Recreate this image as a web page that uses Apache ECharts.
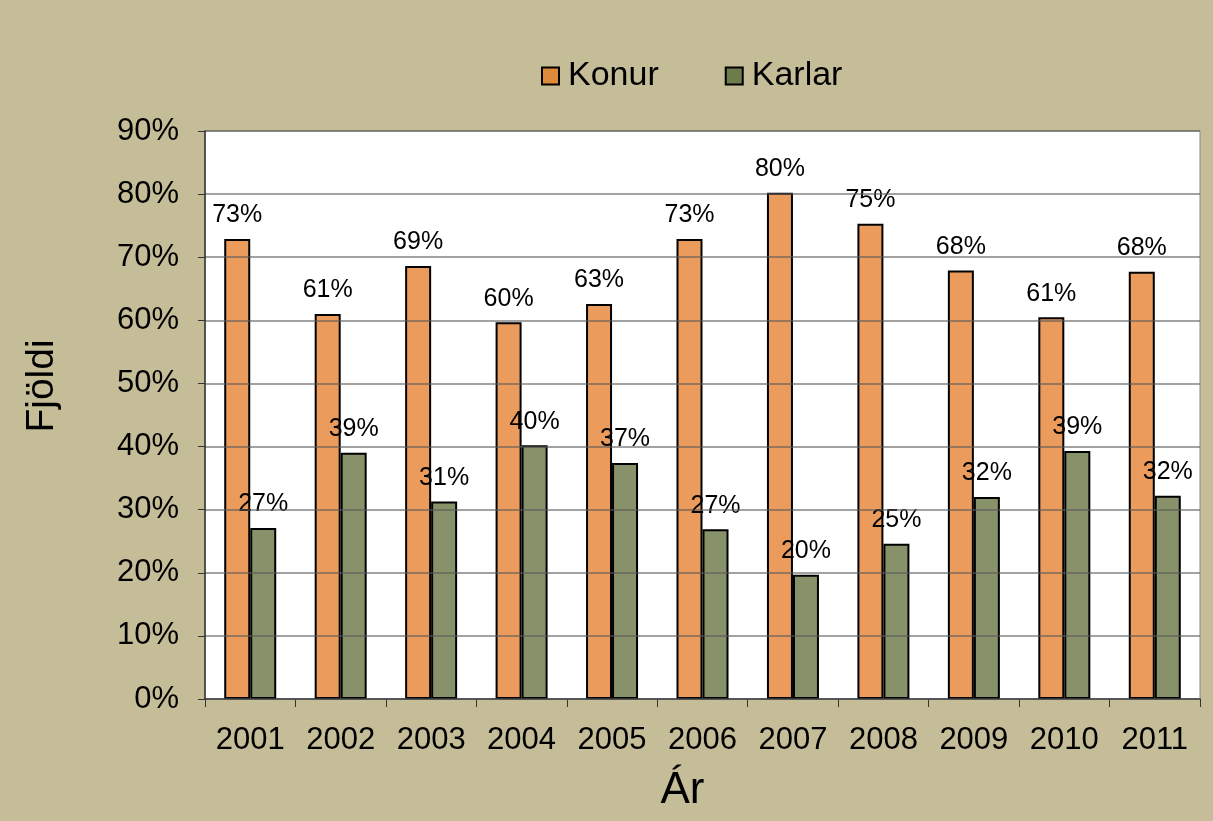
<!DOCTYPE html>
<html>
<head>
<meta charset="utf-8">
<script src="https://cdn.jsdelivr.net/npm/echarts@6/dist/echarts.min.js"></script>
<style>
  html, body { margin: 0; padding: 0; background: #c5bd97; }
  #chart { width: 1213px; height: 821px; }
</style>
</head>
<body>
<div id="chart"></div>
<script>
const years = ['2001', '2002', '2003', '2004', '2005', '2006', '2007', '2008', '2009', '2010', '2011'];
const konur = [72.9, 61.0, 68.6, 59.7, 62.6, 72.9, 80.2, 75.3, 67.9, 60.5, 67.7];
const karlar = [27.1, 39.0, 31.3, 40.2, 37.4, 26.9, 19.7, 24.6, 32.0, 39.3, 32.2];

const chart = echarts.init(document.getElementById('chart'));

const labelStyle = {
  show: true,
  position: 'top',
  distance: 11,
  fontFamily: 'Liberation Sans',
  fontSize: 25,
  color: '#000',
  formatter: p => Math.round(p.value) + '%'
};

chart.setOption({
  backgroundColor: '#c5bd97',
  textStyle: { fontFamily: 'Liberation Sans' },
  legend: {
    top: 54,
    left: 536,
    icon: 'rect',
    itemWidth: 17,
    itemHeight: 17,
    itemGap: 66,
    textStyle: { fontSize: 34, color: '#000', fontFamily: 'Liberation Sans', padding: [0, 0, 0, 4] },
    data: [
      { name: 'Konur', itemStyle: { color: '#dd8a3c', borderColor: '#000', borderWidth: 2 } },
      { name: 'Karlar', itemStyle: { color: '#6e7b4a', borderColor: '#000', borderWidth: 2 } }
    ]
  },
  grid: {
    left: 205,
    right: 13,
    top: 131,
    bottom: 122,
    show: true,
    backgroundColor: '#ffffff',
    borderColor: '#8a8a8a',
    borderWidth: 1
  },
  xAxis: {
    type: 'category',
    data: years,
    name: 'Ár',
    nameLocation: 'middle',
    nameGap: 70,
    nameTextStyle: { fontSize: 44, color: '#000', fontFamily: 'Liberation Sans', padding: [0, 40, 0, 0] },
    axisLine: { lineStyle: { color: '#333', width: 1.5 } },
    axisTick: { show: true, length: 8, lineStyle: { color: '#333' } },
    axisLabel: { fontSize: 31, color: '#000', margin: 26, fontFamily: 'Liberation Sans' }
  },
  yAxis: {
    type: 'value',
    min: 0,
    max: 90,
    interval: 10,
    z: 3,
    name: 'Fjöldi',
    nameLocation: 'middle',
    nameGap: 143,
    nameTextStyle: { fontSize: 39, color: '#000', fontFamily: 'Liberation Sans', padding: [0, 0, 0, 58] },
    axisLine: { show: true, lineStyle: { color: '#333', width: 1.5 } },
    axisTick: { show: true, length: 7, lineStyle: { color: '#333' } },
    axisLabel: { fontSize: 31, color: '#000', margin: 26, formatter: '{value}%', fontFamily: 'Liberation Sans' },
    splitLine: { lineStyle: { color: 'rgba(90,90,90,0.75)', width: 1.5 } }
  },
  series: [
    {
      name: 'Konur',
      type: 'bar',
      data: konur,
      barWidth: 26,
      barGap: '0%',
      itemStyle: { color: '#eb9c5c', borderColor: '#000', borderWidth: 2 },
      label: labelStyle
    },
    {
      name: 'Karlar',
      type: 'bar',
      data: karlar,
      barWidth: 26,
      itemStyle: { color: '#87916a', borderColor: '#000', borderWidth: 2 },
      label: labelStyle
    }
  ]
});
</script>
</body>
</html>
